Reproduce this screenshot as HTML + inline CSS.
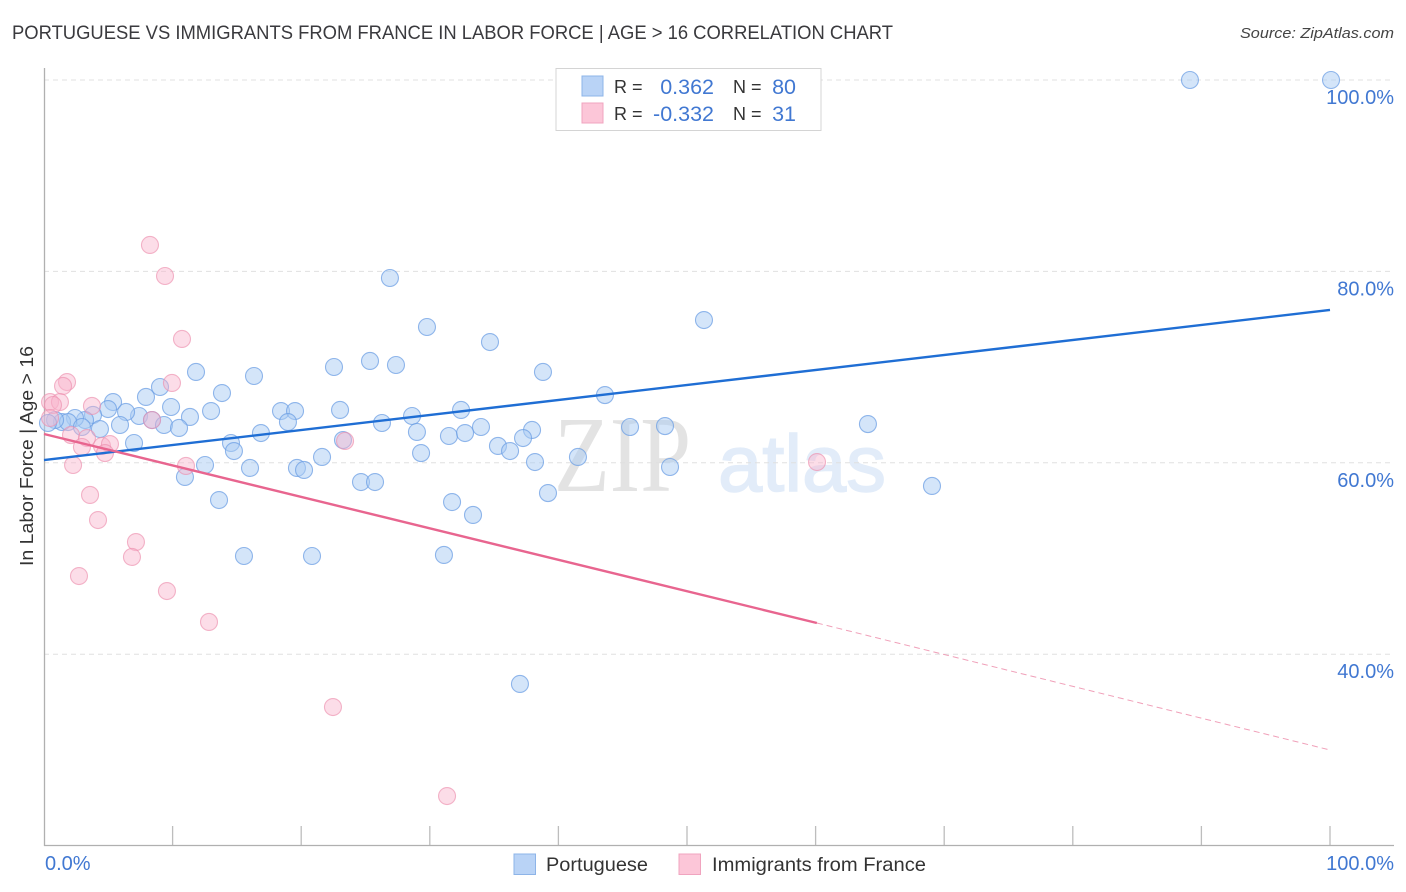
<!DOCTYPE html>
<html lang="en">
<head>
<meta charset="utf-8">
<title>Portuguese vs Immigrants from France in Labor Force | Age > 16 Correlation Chart</title>
<style>
html,body{margin:0;padding:0;background:#fff;width:1406px;height:892px;overflow:hidden}
svg{display:block;font-family:"Liberation Sans",sans-serif}
</style>
</head>
<body>
<svg id="chart" width="1406" height="892" viewBox="0 0 1406 892" xmlns="http://www.w3.org/2000/svg">
  <text x="12" y="39" font-size="19" fill="#3a3a3e" textLength="881" lengthAdjust="spacingAndGlyphs">PORTUGUESE VS IMMIGRANTS FROM FRANCE IN LABOR FORCE | AGE &gt; 16 CORRELATION CHART</text>
  <text x="1394" y="38" font-size="15" font-style="italic" fill="#444" text-anchor="end" textLength="154" lengthAdjust="spacingAndGlyphs">Source: ZipAtlas.com</text>

  <g>
    <text x="554" y="491" font-family="'Liberation Serif',serif" font-size="108" fill="#e3e3e3" textLength="137" lengthAdjust="spacingAndGlyphs">ZIP</text>
    <text x="718" y="491" font-size="80" fill="#e2ecf9" stroke="#e2ecf9" stroke-width="1.5" textLength="168" lengthAdjust="spacingAndGlyphs">atlas</text>
  </g>

  <g id="grid"></g>
  <g id="ticks"></g>
  <line x1="44.5" y1="68" x2="44.5" y2="846" stroke="#b0b0b0" stroke-width="1.3"/>
  <line x1="44" y1="845.5" x2="1394" y2="845.5" stroke="#b0b0b0" stroke-width="1.3"/>

  <g id="points-a"></g>
  <g id="points-b"></g>
  <g id="trends"></g>
  <g id="y-labels"></g>
  <g id="x-labels"></g>

  <text transform="translate(33,456) rotate(-90)" font-size="18.5" fill="#333" text-anchor="middle" textLength="220" lengthAdjust="spacingAndGlyphs">In Labor Force | Age &gt; 16</text>

  <g>
    <rect x="556" y="68.5" width="265" height="62" fill="#fff" stroke="#d4d4d4" stroke-width="1"/>
    <rect x="582" y="76" width="21" height="20" fill="#b9d3f6" stroke="#8db4e8" stroke-width="1"/>
    <rect x="582" y="103" width="21" height="20" fill="#fcc6d8" stroke="#f0a4bf" stroke-width="1"/>
    <text x="614" y="93" font-size="18" fill="#333">R =</text>
    <text x="714" y="94" font-size="21.5" fill="#4178d2" text-anchor="end">0.362</text>
    <text x="733" y="93" font-size="18" fill="#333">N =</text>
    <text x="796" y="94" font-size="21.5" fill="#4178d2" text-anchor="end">80</text>
    <text x="614" y="120" font-size="18" fill="#333">R =</text>
    <text x="714" y="121" font-size="21.5" fill="#4178d2" text-anchor="end">-0.332</text>
    <text x="733" y="120" font-size="18" fill="#333">N =</text>
    <text x="796" y="121" font-size="21.5" fill="#4178d2" text-anchor="end">31</text>
  </g>

  <g>
    <rect x="514" y="854" width="21.5" height="20.5" fill="#b9d3f6" stroke="#8db4e8" stroke-width="1"/>
    <text x="546" y="871" font-size="19.5" fill="#333" textLength="102" lengthAdjust="spacingAndGlyphs">Portuguese</text>
    <rect x="679" y="854" width="21.5" height="20.5" fill="#fcc6d8" stroke="#f0a4bf" stroke-width="1"/>
    <text x="712" y="871" font-size="19.5" fill="#333" textLength="214" lengthAdjust="spacingAndGlyphs">Immigrants from France</text>
  </g>
</svg>

<script>
const portugueseX = [89.11,100.08,26.9,29.78,51.32,34.68,22.55,25.35,27.37,38.8,11.82,16.33,9.02,13.84,7.93,5.37,4.98,9.88,12.99,18.43,19.52,23.02,32.43,28.62,43.62,7.39,6.38,11.35,3.81,3.19,2.41,1.4,1.87,0.86,0.31,2.95,4.35,5.91,8.4,9.33,10.5,18.97,26.28,33.98,37.95,45.57,48.29,64.07,16.87,29,31.49,32.74,37.25,14.54,7,14.77,35.3,36.24,29.32,41.52,21.62,38.18,12.52,16.02,19.67,20.22,48.68,10.96,24.65,25.74,39.19,13.61,31.73,33.36,69.05,15.55,20.84,31.1,37.01,23.25];
const portugueseY = [100,100,79.31,74.19,74.92,72.62,70.01,70.64,70.22,69.49,69.49,69.07,67.92,67.29,66.88,66.35,65.62,65.83,65.41,65.41,65.41,65.52,65.52,64.89,67.08,64.89,65.31,64.79,65,64.47,64.68,64.26,64.26,64.47,64.16,63.74,63.53,63.95,64.47,63.95,63.64,64.26,64.16,63.74,63.43,63.74,63.84,64.05,63.11,63.22,62.8,63.11,62.59,62.07,62.07,61.23,61.76,61.23,61.02,60.61,60.61,60.08,59.77,59.46,59.46,59.25,59.56,58.52,57.99,57.99,56.84,56.11,55.9,54.55,57.58,50.26,50.26,50.37,36.89,62.38];
const franceX = [8.24,9.41,10.73,9.95,1.79,1.48,0.47,1.24,0.7,3.73,8.4,0.47,2.1,3.34,2.95,4.51,5.13,4.74,23.41,2.26,11.04,60.11,3.58,4.2,7.15,6.84,2.72,9.56,12.83,22.47,31.34];
const franceY = [82.76,79.52,72.94,68.34,68.44,68.03,66.35,66.35,66.04,65.94,64.47,64.68,62.9,62.59,61.65,61.76,61.96,61.02,62.28,59.77,59.67,60.08,56.64,54.02,51.72,50.16,48.17,46.6,43.37,34.48,25.18];
const portugueseTrendX = [0,100];
const portugueseTrendY = [60.29,75.97];
const franceTrendSolidX = [0,60.1];
const franceTrendSolidY = [63.01,43.26];
const franceTrendDashX = [60.1,100];
const franceTrendDashY = [43.26,29.99];
const yTicks = [100,80,60,40];
const yTickLabels = ["100.0%","80.0%","60.0%","40.0%"];
const xTicks = [10,20,30,40,50,60,70,80,90,100];
const xEndTicks = [0,100];
const xEndLabels = ["0.0%","100.0%"];

const SVG_NS = "http://www.w3.org/2000/svg";
function xScale(v){ return 44 + v * 12.86; }
function yScale(v){ return 80 + (100 - v) * 9.57; }
function make(tag, attrs, parent){
  const el = document.createElementNS(SVG_NS, tag);
  for (const k in attrs) el.setAttribute(k, attrs[k]);
  parent.appendChild(el);
  return el;
}

const gridG = document.getElementById("grid");
yTicks.forEach(function(v){
  const y = yScale(v);
  const ln = make("line", {x1:44, x2:1394, y1:y, y2:y, stroke:"#e0e0e0", "stroke-width":1, "stroke-dasharray":"5 4"}, gridG);
  
  
});

const ticksG = document.getElementById("ticks");
xTicks.forEach(function(v){
  const x = xScale(v);
  const t = make("line", {x1:x, x2:x, y1:826, y2:845, stroke:"#bdbdbd", "stroke-width":1.3}, ticksG);
  
  
});

const ptsA = document.getElementById("points-a");
portugueseX.forEach(function(v, i){
  const c = make("circle", {cx:xScale(v), cy:yScale(portugueseY[i]), r:8.5, fill:"#a9cbf4", "fill-opacity":0.5, stroke:"#6a9de3", "stroke-opacity":0.72, "stroke-width":1.1}, ptsA);
  
  
});

const ptsB = document.getElementById("points-b");
franceX.forEach(function(v, i){
  const c = make("circle", {cx:xScale(v), cy:yScale(franceY[i]), r:8.5, fill:"#f9b4cb", "fill-opacity":0.45, stroke:"#ec8fae", "stroke-opacity":0.65, "stroke-width":1.1}, ptsB);
  
  
});

const trendG = document.getElementById("trends");
const tA = make("line", {x1:xScale(portugueseTrendX[0]), y1:yScale(portugueseTrendY[0]), x2:xScale(portugueseTrendX[1]), y2:yScale(portugueseTrendY[1]), stroke:"#1f6ed4", "stroke-width":2.4}, trendG);


const tB = make("line", {x1:xScale(franceTrendSolidX[0]), y1:yScale(franceTrendSolidY[0]), x2:xScale(franceTrendSolidX[1]), y2:yScale(franceTrendSolidY[1]), stroke:"#e8658f", "stroke-width":2.4}, trendG);


const tC = make("line", {x1:xScale(franceTrendDashX[0]), y1:yScale(franceTrendDashY[0]), x2:xScale(franceTrendDashX[1]), y2:yScale(franceTrendDashY[1]), stroke:"#f0a0b9", "stroke-width":1, "stroke-dasharray":"6 4"}, trendG);



const yLabG = document.getElementById("y-labels");
yTicks.forEach(function(v, i){
  const t = make("text", {x:1394, y:yScale(v) + 24, "font-size":20, fill:"#4178d2", "text-anchor":"end"}, yLabG);
  t.textContent = yTickLabels[i];
  
  
});

const xLabG = document.getElementById("x-labels");
xEndTicks.forEach(function(v, i){
  const t = make("text", {x: i === 0 ? xScale(v) + 1 : 1394, y:870, "font-size":20, fill:"#4178d2", "text-anchor": i === 0 ? "start" : "end"}, xLabG);
  t.textContent = xEndLabels[i];
  
  
});
</script>
</body>
</html>
